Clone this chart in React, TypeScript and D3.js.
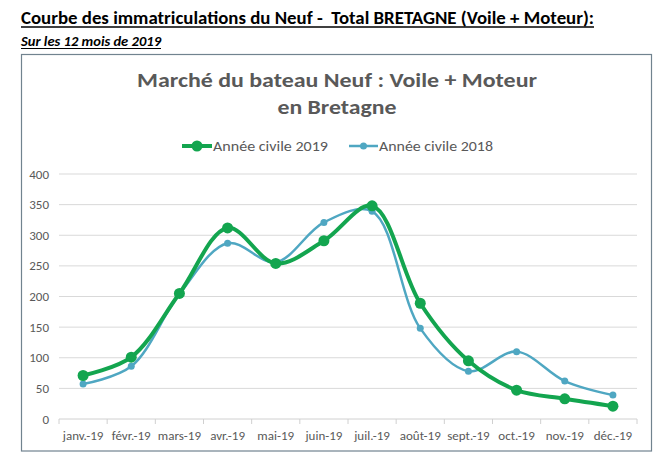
import React from "react";
import * as d3 from "d3";

const months = ["janv.-19","févr.-19","mars-19","avr.-19","mai-19","juin-19","juil.-19","août-19","sept.-19","oct.-19","nov.-19","déc.-19"];
const values2019 = [71, 101, 205, 312, 254, 291, 348, 189, 95, 47, 33, 21];
const values2018 = [57, 86, 204, 287, 256, 321, 339, 148, 78, 110, 62, 39];
const yTicks = [0, 50, 100, 150, 200, 250, 300, 350, 400];

const W = 665, H = 462;
const plotLeft = 59, plotRight = 637, plotTop = 174, plotBottom = 419;
const green = "#13a54f";
const blue = "#4fa7c2";
const font = "Calibri, Carlito, 'Open Sans', 'Noto Sans', sans-serif";

export default function App() {
  const x = d3.scaleBand<string>().domain(months).range([plotLeft, plotRight]);
  const y = d3.scaleLinear().domain([0, 400]).range([plotBottom, plotTop]);
  const cx = (i: number) => (x(months[i]) as number) + x.bandwidth() / 2;
  const line = d3.line<number>().x((_, i) => cx(i)).y((d) => y(d)).curve(d3.curveCatmullRom.alpha(0.5));
  const boundaries = d3.range(months.length + 1).map((i) => plotLeft + i * x.bandwidth());

  return (
    <svg width={W} height={H} style={{ position: "absolute", left: 0, top: 0, background: "#fff" }}>
      <rect x={0} y={0} width={W} height={H} fill="#fff" />
      <text x={21} y={24} fontFamily={font} fontWeight="bold" fontSize={18} fill="#000" textLength={573} lengthAdjust="spacingAndGlyphs" style={{ whiteSpace: "pre" }}>{"Courbe des immatriculations du Neuf -  Total BRETAGNE (Voile + Moteur):"}</text>
      <line x1={21} x2={594} y1={27} y2={27} stroke="#000" strokeWidth={1.3} />
      <text x={21} y={46} fontFamily={font} fontWeight="bold" fontStyle="italic" fontSize={13} fill="#000" textLength={140} lengthAdjust="spacingAndGlyphs">Sur les 12 mois de 2019</text>
      <line x1={21} x2={161} y1={48.5} y2={48.5} stroke="#000" strokeWidth={1} />

      <rect x={21.5} y={54.5} width={630} height={396.5} fill="#fff" stroke="#71838f" strokeWidth={1.2} />

      <text x={337} y={87} textAnchor="middle" fontFamily={font} fontWeight="bold" fontSize={20} fill="#595959" textLength={400} lengthAdjust="spacingAndGlyphs">Marché du bateau Neuf : Voile + Moteur</text>
      <text x={337} y={114} textAnchor="middle" fontFamily={font} fontWeight="bold" fontSize={20} fill="#595959" textLength={119} lengthAdjust="spacingAndGlyphs">en Bretagne</text>

      <g>
        <line x1={182} x2={212} y1={146} y2={146} stroke={green} strokeWidth={4} />
        <circle cx={197} cy={146} r={5.5} fill={green} />
        <text x={213} y={151} fontFamily={font} fontSize={14} fill="#595959" textLength={115} lengthAdjust="spacingAndGlyphs">Année civile 2019</text>
        <line x1={349} x2={378} y1={146} y2={146} stroke={blue} strokeWidth={2.5} />
        <circle cx={363.5} cy={146} r={3.5} fill={blue} />
        <text x={379} y={151} fontFamily={font} fontSize={14} fill="#595959" textLength={114} lengthAdjust="spacingAndGlyphs">Année civile 2018</text>
      </g>

      {yTicks.map((t) => (
        <g key={t}>
          {t > 0 && <line x1={plotLeft} x2={plotRight} y1={y(t)} y2={y(t)} stroke="#d9d9d9" strokeWidth={1} />}
          <text x={49} y={y(t) + 4.5} textAnchor="end" fontFamily={font} fontSize={13} fill="#595959">{t}</text>
        </g>
      ))}
      <line x1={plotLeft} x2={plotRight} y1={plotBottom} y2={plotBottom} stroke="#d0d0d0" strokeWidth={1} />
      {boundaries.map((b, i) => (
        <line key={i} x1={b} x2={b} y1={plotBottom} y2={plotBottom + 5} stroke="#d0d0d0" strokeWidth={1} />
      ))}
      {months.map((m, i) => (
        <text key={m} x={cx(i)} y={440} textAnchor="middle" fontFamily={font} fontSize={13} fill="#595959">{m}</text>
      ))}

      <path d={line(values2018) || ""} fill="none" stroke={blue} strokeWidth={2.5} />
      {values2018.map((v, i) => (
        <circle key={i} cx={cx(i)} cy={y(v)} r={3.5} fill={blue} />
      ))}
      <path d={line(values2019) || ""} fill="none" stroke={green} strokeWidth={4} />
      {values2019.map((v, i) => (
        <circle key={i} cx={cx(i)} cy={y(v)} r={5.5} fill={green} />
      ))}
    </svg>
  );
}
